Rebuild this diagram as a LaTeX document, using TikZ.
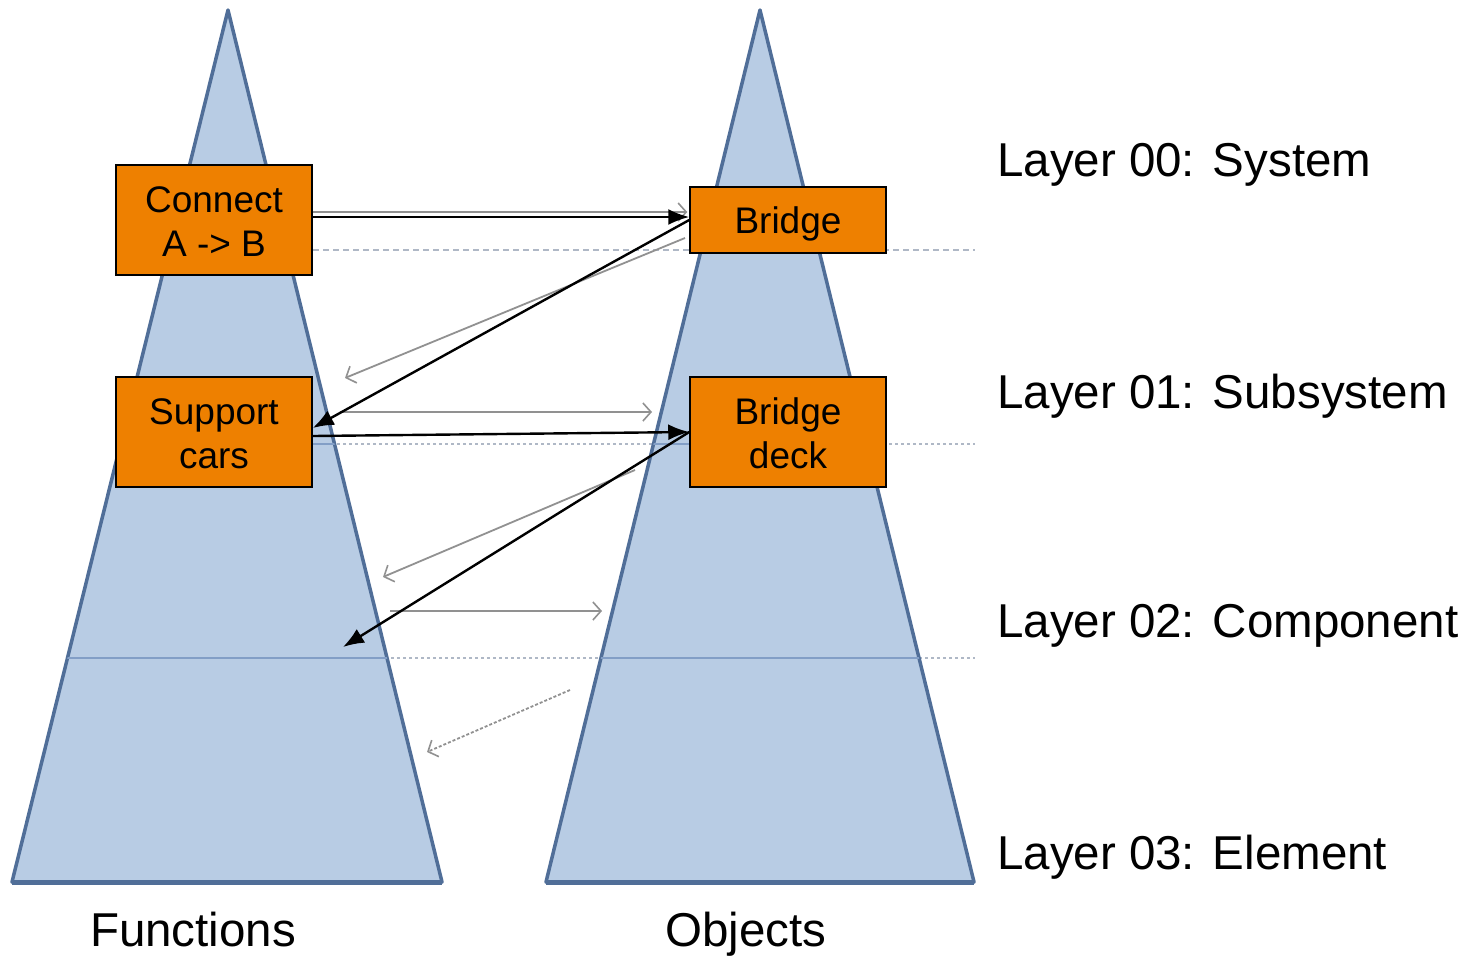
\documentclass[tikz,border=0pt]{standalone}
\usepackage{fontspec}
\setmainfont{Liberation Sans}
\usetikzlibrary{arrows.meta}
\definecolor{boxorange}{RGB}{238,128,0}
\definecolor{trifill}{RGB}{184,204,228}
\definecolor{triedge}{RGB}{80,110,152}
\definecolor{layerin}{RGB}{130,158,198}
\definecolor{layerout}{RGB}{175,184,198}
\definecolor{ghost}{RGB}{145,145,145}
\newcommand\boxtop[1]{\rule{0pt}{#1}}
\tikzset{
  objbox/.style={draw=black, line width=1.5pt, fill=boxorange, minimum width=196pt, align=center, inner sep=0pt, font=\fontsize{37}{44}\selectfont},
  tri/.style={fill=trifill, draw=triedge, line width=3.5pt, line join=round},
  layerlabel/.style={anchor=west, inner sep=0pt, font=\fontsize{47.5}{57}\selectfont},
  colabel/.style={inner sep=0pt, font=\fontsize{47.5}{57}\selectfont},
  mainarrow/.style={draw=black, line width=2.4pt, -{Latex[length=21pt,width=16pt]}},
  ghostarrow/.style={draw=ghost, line width=1.8pt, -{Straight Barb[length=8pt,width=18pt,line width=1.6pt]}},
  layerdash/.style={draw=layerout, line width=2pt, dash pattern=on 6pt off 4pt},
  layerdot/.style={draw=layerout, line width=2.5pt, dash pattern=on 3pt off 3pt},
}
\begin{document}
\begin{tikzpicture}[x=1pt,y=-1pt]
\useasboundingbox (0,0) rectangle (1474,956);
\fill[white] (0,0) rectangle (1474,956);
% layer separators outside the triangles
\draw[layerdash] (313,250) -- (975,250);
\draw[layerdot] (313,444) -- (975,444);
\draw[layerdot] (313,658) -- (975,658);
% triangles
\path[tri] (228,10) -- (442,882) -- (12,882) -- cycle;
\path[tri] (760,10) -- (974,882) -- (546,882) -- cycle;
\begin{scope}
  \clip (228,10) -- (442,882) -- (12,882) -- cycle;
  \draw[layerin, line width=2.5pt] (0,250) -- (500,250) (0,444) -- (500,444) (0,658) -- (500,658);
\end{scope}
\begin{scope}
  \clip (760,10) -- (974,882) -- (546,882) -- cycle;
  \draw[layerin, line width=2.5pt] (500,250) -- (1000,250) (500,444) -- (1000,444) (500,658) -- (1000,658);
\end{scope}
\draw[triedge, line width=5pt] (12,882) -- (442,882);
\draw[triedge, line width=5pt] (546,882) -- (974,882);
% boxes
\node[objbox, minimum height=110pt] (connect) at (214,220) {\boxtop{29pt}Connect\\A -> B};
\node[objbox, minimum height=110pt] (support) at (214,432) {\boxtop{29pt}Support\\cars};
\node[objbox, minimum height=66pt] (bridge) at (788,220) {\boxtop{35pt}Bridge};
\node[objbox, minimum height=110pt] (deck) at (788,432) {\boxtop{29pt}Bridge\\deck};
% ghost (grey) arrows
\coordinate (g1s) at (685,238);
\coordinate (g1e) at (345,378);
\coordinate (g2s) at (340,412);
\coordinate (g2e) at (652,412);
\coordinate (g3s) at (635,470);
\coordinate (g3e) at (383,577);
\coordinate (g4s) at (390,611);
\coordinate (g4e) at (602,611);
\coordinate (g5s) at (570,690);
\coordinate (g5e) at (427,752);
\draw[ghostarrow] ([yshift=8pt]connect.east) -- ([yshift=8pt,xshift=-2pt]bridge.west);
\draw[ghostarrow] (g1s) -- (g1e);
\draw[ghostarrow] (g2s) -- (g2e);
\draw[ghostarrow] (g3s) -- (g3e);
\draw[ghostarrow] (g4s) -- (g4e);
\draw[ghostarrow, dash pattern=on 3pt off 2pt] (g5s) -- (g5e);
% main arrows
\coordinate (lowend) at (343,647);
\draw[mainarrow] ([yshift=3pt]connect.east) -- ([yshift=3pt]bridge.west);
\draw[mainarrow] (bridge.west) -- ([yshift=4pt]support.east);
\draw[mainarrow] ([yshift=-4pt]support.east) -- (deck.west);
\draw[mainarrow] (deck.west) -- (lowend);
% labels
\node[layerlabel] (l0) at (997,165) {Layer 00: System};
\node[layerlabel] (l1) at (997,396) {Layer 01: Subsystem};
\node[layerlabel] (l2) at (997,626) {Layer 02: Component};
\node[layerlabel] (l3) at (997,857) {Layer 03: Element};
\node[colabel] (fn) at (193,930) {Functions};
\node[colabel] (ob) at (746,934) {Objects};
\end{tikzpicture}
\end{document}
